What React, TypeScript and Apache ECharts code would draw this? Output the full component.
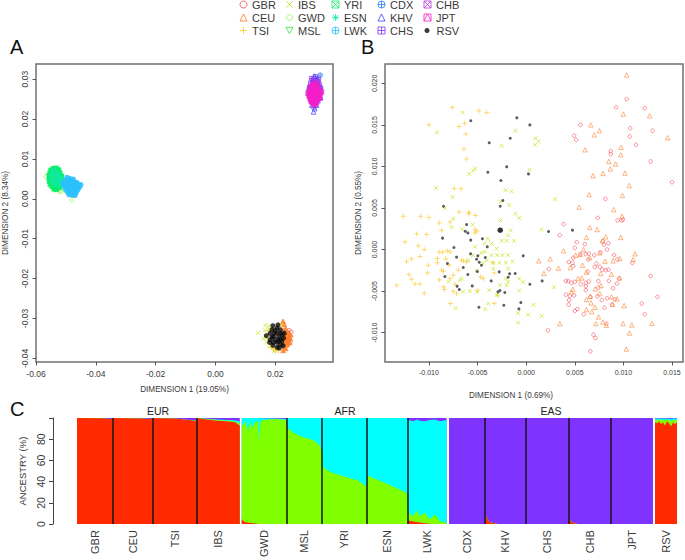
import React, { useEffect, useRef } from "react";
import * as echarts from "echarts";

type Pt = number[];

// ---- tick labels ----
const ticksAX = [-0.06, -0.04, -0.02, 0, 0.02];
const ticksAY = [-0.04, -0.03, -0.02, -0.01, 0, 0.01, 0.02, 0.03];
const ticksBX = [-0.01, -0.005, 0, 0.005, 0.01, 0.015];
const ticksBY = [-0.01, -0.005, 0, 0.005, 0.01, 0.015, 0.02];
const ticksCY = [0, 20, 40, 60, 80, 100];
const labelsCY = [0, 20, 40, 60, 80];

// ---- panel A points, in thousandths ----
const aYRI: Pt[] = [[-54.9,7.2],[-54.2,7.6],[-53.3,7.7],[-52.6,7.3],[-55.3,6.5],[-54.5,6.6],[-53.7,6.8],[-52.8,6.6],[-52,6.5],[-55.5,5.8],[-54.7,5.9],[-53.9,6],[-53.1,5.9],[-52.3,5.8],[-51.5,5.7],[-55.6,5.1],[-54.8,5.2],[-54,5.2],[-53.2,5.1],[-52.4,5],[-51.6,4.9],[-55.5,4.4],[-54.7,4.5],[-53.9,4.5],[-53,4.4],[-52.2,4.3],[-51.3,4.2],[-55.2,3.7],[-54.4,3.8],[-53.6,3.8],[-52.7,3.7],[-51.9,3.6],[-54.6,3.1],[-53.8,3.1],[-53,3],[-52.2,2.9],[-54,2.5],[-53.2,2.4]];
const aESN: Pt[] = [[-54.4,7],[-53.4,7.1],[-55,6],[-53.5,6.2],[-52.4,6.2],[-54.4,5.5],[-52.8,5.4],[-51.9,5.3],[-55,4.8],[-53.5,4.7],[-52,4.6],[-54.2,4],[-52.5,4.1],[-51,4.4],[-53.4,3.4],[-52,3.3]];
const aMSL: Pt[] = [[-55.1,7],[-53.9,7.4],[-52.3,7],[-55.7,5.5],[-51.4,5.4],[-55.1,3.9],[-51.7,3.5],[-53.5,2.7],[-52.6,2.5]];
const aGWD: Pt[] = [[-56.7,5.5],[-51.7,1.8],[-48,-0.3],[-52.6,2.2],[-55.4,3.3],[-53.8,2.2],[-55.8,6.2],[-51,3],[-50.5,2.2],[-52.2,1.9]];
const aLWK: Pt[] = [[-49.6,5.3],[-48.6,5],[-47.6,4.9],[-50.4,4.6],[-49.4,4.5],[-48.4,4.4],[-47.4,4.2],[-46.4,4.1],[-51,3.9],[-50,3.8],[-49,3.8],[-48,3.7],[-47,3.6],[-46,3.6],[-45.1,3.5],[-50.5,3.1],[-49.5,3.1],[-48.5,3],[-47.5,3],[-46.5,2.9],[-45.6,2.9],[-50,2.4],[-49,2.4],[-48,2.3],[-47,2.3],[-46.1,2.3],[-49.4,1.7],[-48.4,1.7],[-47.5,1.6],[-46.6,1.6],[-48.9,1.1],[-47.9,1],[-47,0.9]];
const aCDX: Pt[] = [[35,31],[33.5,29.5],[34.2,28.6],[32.2,27.5],[34.6,26],[33.3,30.2],[33,28.6],[34.8,27.5],[32,26.4],[33.2,25.2]];
const aKHV: Pt[] = [[32.8,21.8],[32.2,23.5],[33.2,22.6],[31.1,27.7],[33,30.8],[34.4,29.8],[32.5,29.4],[33.8,29],[32,28.6],[35,28.2],[31.6,25.6],[35.2,25.4],[33.8,23.5],[32.6,24.6],[34.3,24.6],[31.4,26.8]];
const aCHS: Pt[] = [[32.1,30.2],[33.5,30.6],[34.5,30],[32.8,29.2],[33.9,28.8],[31.8,29],[35.2,27.8],[31.4,27.9],[32.9,23],[33.5,24],[32,24.4]];
const aCHB: Pt[] = [[32.4,29.6],[33.2,29.2],[34.1,29.2],[34.8,28.6],[31.7,28.2],[32.6,28],[33.6,28.2],[30.9,26.4],[35.5,26.8],[32.3,25],[33.9,24.9]];
const aJPT: Pt[] = [[32.6,28.6],[33.6,28.7],[32,28],[33,28.1],[34,27.9],[31.6,27.2],[32.4,27.3],[33.2,27.2],[34.1,27.1],[34.8,27.2],[31.3,26.5],[32.1,26.6],[33,26.4],[33.8,26.5],[34.7,26.4],[35.2,26.6],[31.3,25.8],[32.2,25.9],[33.1,25.7],[34,25.8],[34.9,25.7],[31.7,25],[32.5,25.1],[33.3,24.9],[34.2,25],[34.8,25.2],[32.1,24.3],[33,24.4],[33.8,24.2],[32.7,23.8],[33.4,23.7]];
const aGBR: Pt[] = [[24.6,-33],[25.2,-34.5],[24.5,-35.5],[25,-36],[24,-34.5],[23.6,-33.4],[23.9,-36.7],[25.3,-33.4]];
const aCEU: Pt[] = [[22.6,-30.7],[22.6,-38],[23.5,-32.5],[24.5,-33.5],[25,-35],[24,-36.5],[23.5,-37.5],[25,-34],[24.8,-36],[23,-31.5],[23.4,-33.6],[24.2,-34.4],[23.2,-35],[24,-35.4],[22.6,-36.2],[23.4,-36],[22.8,-33],[23.3,-34.3],[24.6,-34.8],[22.8,-37]];
const aTSI: Pt[] = [[18,-33],[19,-32.5],[18.5,-36.5],[19.5,-37.5],[21,-38],[21.5,-32],[22,-31.5],[17.5,-35],[20.5,-37.8],[20,-38.1],[17.6,-33.9],[18.9,-37.2]];
const aIBS: Pt[] = [[14.3,-33.6],[16.5,-33],[17,-36],[18,-37.2],[19.5,-38.2],[17.5,-32.8],[16,-35],[16.9,-34.5],[17.9,-31.9],[16.7,-31.7]];
const aRSV: Pt[] = [[17,-34.3],[18.3,-33.7],[19.2,-31.8],[20.9,-31.6],[18.9,-32.8],[20,-33],[21.7,-32.8],[20.6,-33.7],[22.2,-34.1],[19.4,-34.5],[21.1,-34.7],[18.3,-35.3],[20,-35.3],[21.7,-35.2],[18.1,-36],[20.6,-36],[22.2,-35.7],[19.2,-36.7],[21.7,-36.6],[22.6,-36.8],[20.6,-37.2],[21.3,-37.4],[19.4,-36],[23,-33.7],[18.9,-34.7],[20.6,-32.4],[21.7,-33.7],[21.1,-35.7],[19.7,-33.7],[22.8,-34.9]];

// ---- panel B points, in thousandths ----
const bGBR: Pt[] = [[10.34,18.1],[9.25,17.1],[12.2,17],[5.58,15],[10.7,14.6],[13,14.3],[4.93,13.7],[5.14,13.2],[10.65,13.6],[11.3,12.6],[8.7,11.85],[8.7,11.5],[12.8,10.6],[15,8.1],[8.15,6.1],[7.36,3.8],[9.4,3.5],[9.8,3.5],[9.96,3.6],[3.84,3.05],[3.46,1.73],[5.2,0.88],[6.03,0.64],[5,0.2],[7.9,1],[8.46,0.76],[8,0.6],[8.32,0],[9.04,-0.68],[5.58,-0.56],[6.13,-0.56],[6.44,-0.48],[7,-0.68],[7.64,-0.36],[4.83,-1],[4.38,-1.49],[4.76,-1.6],[4.83,-2],[6.4,-1.2],[9.38,-1.2],[10.92,-1.6],[7.23,-1.69],[7.05,-2.1],[2.33,-2.37],[6.34,-2.65],[7.57,-2.09],[7.84,-2.41],[8.18,-2.49],[8.46,-2.41],[12.8,-3.2],[4.08,-3.78],[4.32,-3.82],[5,-3.9],[4.66,-4],[5.62,-4.18],[6.13,-4.02],[7.43,-3.82],[8.5,-3.78],[9.35,-4.1],[9.55,-3.5],[8.94,-4.66],[6.13,-4.42],[6.13,-4.9],[7.43,-4.58],[4.08,-5.43],[4.49,-5.59],[4.93,-5.5],[6.6,-5.7],[7.33,-5.63],[4.42,-6.1],[4.38,-6.63],[7.77,-6.1],[8.32,-5.87],[9.1,-6],[11.88,-6.5],[13.5,-5.7],[12.2,-7.8],[5.27,-7.15],[5,-7.4],[5.92,-7.8],[8.05,-7],[8.84,-6.63],[8.25,-8.92],[2.23,-9.73],[6.92,-10.25],[7.12,-10.65],[6.6,-12.26],[6.44,-3.86]];
const bCEU: Pt[] = [[10.34,21],[10,16.3],[12.7,16.1],[6.64,15],[7.53,14.3],[7,13.8],[14.55,13.45],[9.76,12.3],[6.06,12],[9.73,11.4],[8.5,10.6],[9.2,10.3],[8.66,9.7],[10.17,9.2],[7.9,9.15],[6.88,8.9],[10.6,7.7],[6.47,6.6],[9.9,6.5],[5.45,5.1],[9,4.8],[9.86,4],[6.54,2.65],[7.3,2.4],[6.2,1.45],[8.18,1.53],[9.73,1.45],[7.84,1.05],[3.84,-0.16],[5.9,0],[7.57,-0.4],[11.2,-0.52],[1.3,-1.37],[2.47,-1.13],[5.1,-0.68],[5.55,-0.6],[8.12,-1.4],[8.94,-1.37],[11,-1.2],[9.62,-1.09],[6.54,-0.96],[5.79,-1.89],[3.32,-2.25],[4.55,-2.17],[1.82,-2.89],[6.2,-2.73],[7.67,-2.89],[8.77,-2.97],[5.72,-3.42],[5.34,-3.5],[9.62,-3.42],[4.8,-4.78],[4.66,-5.1],[7.09,-4.74],[7.7,-4.34],[7.57,-5.3],[6.6,-5.63],[6.2,-6.03],[6.68,-6.43],[8.77,-5.7],[9.35,-5.95],[8.87,-6.6],[10.07,-6.75],[6.2,-7.23],[6.75,-7.48],[7.09,-6.95],[7.43,-8.12],[3.46,-8.92],[7.16,-8.92],[7.88,-8.72],[9.97,-8.92],[10.86,-9.08],[12.95,-8.88],[10.62,-10.05],[10.3,-11.98],[8.25,-9.12]];
const bTSI: Pt[] = [[-7.6,17.1],[-4.86,16.7],[-4.07,16.5],[-6.34,15.2],[-10,15],[-6.9,14.8],[-6.2,13.9],[-6.4,12.1],[-6.13,10.9],[-7.4,7.35],[-6.7,7.3],[-12.64,4],[-10.86,4],[-10,3.85],[-6.9,4.5],[-5.9,4.5],[-5.9,4.3],[-5.2,4.1],[-8.94,3.2],[-7.84,3.3],[-5.24,2.4],[-8.7,2.3],[-12.47,0.92],[-11.27,1.89],[-10.24,1.81],[-11.1,0.44],[-10.48,0],[-10.92,-0.84],[-11.78,-1.13],[-12.3,-1.45],[-10.07,-1.89],[-12.05,-3],[-11.78,-3.58],[-10.14,-2.81],[-13.32,-4.3],[-11.44,-4.14],[-10.92,-4.14],[-10.48,-5.27],[-8.94,-0.32],[-8.6,-0.32],[-8.12,-0.16],[-7.84,-0.28],[-9.14,-1.09],[-9.14,-1.6],[-8.7,-2.49],[-8.5,-2.61],[-8.94,-3.66],[-8.5,-4.5],[-8.4,-4.82],[-7.84,-3.5],[-7.5,-3.09],[-6.99,-2.49],[-6.64,-1.29],[-7.9,-1.89],[-7.5,-5.02],[-7.16,-5.3],[-7.8,-6.5],[-4.97,-4.9],[-5.07,2.2],[-5.27,2],[-4.68,-3.3],[-4.42,-3.5],[-3.29,-2.81],[-3.29,-6.5],[-2.95,-5.5],[-3.39,-1.6],[-7.33,-4.18],[-6.47,-1.37],[-6.13,-1.49],[-8.26,-1.13]];
const bIBS: Pt[] = [[-6.54,16.5],[-1.1,14.3],[-9.18,14.1],[0.96,13.4],[1.27,13],[0.9,12.6],[-2.53,12.5],[-5.24,9.75],[-5.45,9.5],[-5.86,9.1],[0.34,9.6],[-9.28,7.4],[-2.12,7.15],[-1.5,7],[-7.57,6.3],[2.98,6.05],[-2.64,5.75],[-1.75,5.35],[-8.36,4.95],[-1.1,4.3],[-0.72,3.8],[-2.64,3.5],[-7.5,3.7],[-5.5,3],[-7.67,2.7],[-6.57,2.45],[-1.6,2.3],[1.58,2.4],[-3.96,1.29],[-5.27,0.32],[-4.25,0.72],[-3.56,0.72],[-3.05,0.12],[-2.53,1.05],[-2.02,1.05],[-1.27,1.05],[-1.85,1.69],[-4.25,-0.28],[-4.6,-0.4],[-3.56,-0.68],[-2.98,-0.68],[-2.43,-0.68],[-1.85,-0.68],[-4.08,-1.29],[-3.46,-1.6],[-2.74,-1.6],[-2.09,-1.6],[-1.4,-1.45],[-4.42,-1.69],[-5.45,-0.68],[-5.96,-1.29],[-1.85,-2.29],[-3.39,-2.29],[-2.09,-3.5],[-0.72,-3.5],[-0.31,-3.9],[-1.85,-3.9],[-2.7,-4.3],[-2.02,-4.3],[-3.8,-4.9],[-0.72,-4.94],[-2.98,-5.5],[-3.9,-6.5],[-4.2,-7.2],[0.75,-6.67],[-0.82,-7.64],[0.2,-7.84],[1.6,-8],[-0.82,-8.8],[2.84,-4.54],[-6.47,-5.1],[-5.8,-5],[-5.07,-5.1],[-7.26,-7.07],[-8,-3.9],[-6.8,-3.7],[-6.64,-3.5],[-5.1,-2.5]];
const bRSV: Pt[] = [[-5.7,15.5],[-0.96,15.85],[0.38,15],[-1.64,13.4],[-3.8,12.85],[-2,9.95],[-3.94,9.3],[0.24,9.1],[-2.6,8.3],[-2.4,5.9],[-2.67,5.2],[-8.5,5.2],[-6.13,3],[-6.27,2.2],[-6,2],[-8.6,1.37],[-5.7,1.13],[-4.5,1.3],[-4,0.32],[-7.43,0.24],[-5.72,-0.52],[-4.97,-0.76],[-7.16,-0.92],[-5.1,-1.17],[-4.2,-0.96],[-4.83,-1.53],[-4.6,-1.89],[-8.1,-1.69],[-6.47,-2.17],[-5.03,-2.65],[-2.77,-2.69],[-6,-3],[-8.36,-3.26],[-1.7,-2.93],[-1.13,-2.89],[-1.85,-3.34],[-3.6,-3.78],[-5.55,-4.38],[-7.1,-4.42],[-6.88,-4.82],[-2.7,-4.94],[-2.9,-5.1],[-2.2,-5.18],[0.38,-4.18],[1.64,-3.78],[2.3,2.17],[4.76,2.33],[-0.3,-0.76],[-0.55,-6.39],[-2.3,-6.7],[-0.75,-7.15],[-4.86,-6.95]];
const bRSVFocus: Pt[] = [[-2.67, 2.33]];

// ---- panel C: ancestry shares at breakpoints along the samples ----
const populations = ["GBR","CEU","TSI","IBS","GWD","MSL","YRI","ESN","LWK","CDX","KHV","CHS","CHB","JPT","RSV"];
const popCentres = [45,140,244,353,468,568,668,776,876,975,1071,1176,1282,1387,1472];
const popSeparators = [90,190,299,525,612,725,827,1020,1123,1229,1335];

const eurX = [0,60,88,90,150,188,190,250,280,297,299,320,350,380,395,407];
const eurRed = [100,99.7,98.8,100,99.6,99,100,99.2,98,97,100,98.8,97.5,96.8,96,93];
const eurGreen = [0,0,0,0,0,0,0,0,0.2,0.3,0,0.4,0.6,0.6,0.8,2];
const eurCyan = [0,0,0,0,0,0,0,0,0,0.2,0,0.3,0.6,0.8,1,2];
const eurPurple = [0,0.3,1.2,0,0.4,1,0,0.8,1.8,2.5,0,0.5,1.3,1.8,2.2,3];

const afrX = [412,416,420,428,432,437,445,453,456,459,466,499,522,526,541,557,591,607,612,614,632,670,703,723,727,778,825,828,841,849,857,870,882,895,907,924];
const afrRed = [4.5,3,2,1.5,1,1,0.5,0.3,0,0,0,0,0,0,0,0,0,0,0,0,0,0,0,0,0,0,0,3.5,2.5,2,1.5,0.8,0.3,0,0,0];
const afrGreen = [91.5,89,95,86.5,97,89,95.5,96.7,78,97,98,99,98,90.5,86,83,79,74,67.6,54,49,44.6,41,35.5,45.5,37.6,29.4,8,5,11,6,10,4,9,3,1];
const afrCyan = [4,8,3,12,2,10,4,3,22,3,1.8,0.5,1,9.5,14,17,21,26,32.4,46,51,55.4,59,64.5,54.5,62.4,70.6,86.5,89.5,85.5,90,86.2,93.7,89.5,94,97];
const afrPurple = [0,0,0,0,0,0,0,0,0,0,0.2,0.5,1,0,0,0,0,0,0,0,0,0,0,0,0,0,0,2,3,1.5,2.5,3,2,1.5,3,2];

const easX = [930,1020,1022,1030,1053,1229,1231,1240,1253,1440];
const easRed = [0,0,8,2,0,0,4,1,0,0];
const easGreen = [0,0,0,0,0,0,0,0,0,0];
const easCyan = [0,0,0,0,0,0,0,0,0,0];
const easPurple = [100,100,92,98,100,100,96,99,100,100];

const rsvX = [1445,1450,1455,1460,1465,1470,1475,1480,1485,1490,1495,1500];
const rsvRed = [96,95,97,94,96,93,97,95,92,96,94,96];
const rsvGreen = [2,3,1.5,4,2,5,1.5,3,5,2,4,2];
const rsvCyan = [1.5,1.5,1,1.5,1.5,1.5,1,1.5,2,1.5,1.5,1.5];
const rsvPurple = [0.5,0.5,0.5,0.5,0.5,0.5,0.5,0.5,1,0.5,0.5,0.5];

// ---- styles ----
const FONT = "'Liberation Sans', Arial, sans-serif";
const TXT = "#3a3a3a";
const CLEAR = "rgba(255,255,255,0)";
const CIRCLE_PLUS = "path://M0 5A5 5 0 1 0 10 5A5 5 0 1 0 0 5ZM5 0V10M0 5H10";
const SQUARE_X = "path://M0 0H10V10H0ZM0 0L10 10M0 10L10 0";
const SQUARE_PLUS = "path://M0 0H10V10H0ZM5 0V10M0 5H10";
const symbols: Record<string, { symbol: string; color: string; scale: number }> = {
  GBR: { symbol: "circle", color: "#f2434f", scale: 0.9 },
  CEU: { symbol: "triangle", color: "#fb7a24", scale: 1 },
  TSI: { symbol: "path://M5 0V10M0 5H10", color: "#fdc21a", scale: 1.15 },
  IBS: { symbol: "path://M0 0L10 10M0 10L10 0", color: "#bee81e", scale: 0.9 },
  GWD: { symbol: "diamond", color: "#80f23f", scale: 1.1 },
  MSL: { symbol: "path://M0 0H10L5 9Z", color: "#2ee83a", scale: 1 },
  YRI: { symbol: SQUARE_X, color: "#08ee6c", scale: 0.9 },
  ESN: { symbol: "path://M5 0V10M0 5H10M1.5 1.5L8.5 8.5M1.5 8.5L8.5 1.5", color: "#10eaa8", scale: 1 },
  LWK: { symbol: CIRCLE_PLUS, color: "#2cc0fc", scale: 1 },
  CDX: { symbol: CIRCLE_PLUS, color: "#2a7df2", scale: 1 },
  KHV: { symbol: "triangle", color: "#3a3cf0", scale: 1 },
  CHS: { symbol: SQUARE_PLUS, color: "#7a35f0", scale: 0.9 },
  CHB: { symbol: SQUARE_X, color: "#b82ee0", scale: 0.9 },
  JPT: { symbol: "path://M0 0H10V10H0ZM0 10L5 0L10 10", color: "#f51ec8", scale: 0.9 },
};

const toAxis = (pts: Pt[]) => pts.map(([x, y]) => [x / 1000, y / 1000]);

function scatter(name: string, pts: Pt[], panel: number, base: number, lw: number, filled = false) {
  const s = symbols[name];
  return {
    type: "scatter", name, xAxisIndex: panel, yAxisIndex: panel, data: toAxis(pts),
    symbol: s.symbol, symbolSize: base * s.scale, silent: true,
    itemStyle: { color: filled ? s.color : CLEAR, borderColor: s.color, borderWidth: lw },
  };
}
function dots(pts: Pt[], panel: number, size: number, color: string) {
  return {
    type: "scatter", name: "RSV", xAxisIndex: panel, yAxisIndex: panel, data: toAxis(pts),
    symbol: "circle", symbolSize: size, silent: true, itemStyle: { color },
  };
}

const clusterColors = ["#ff2a00", "#80ff00", "#00ffff", "#7f33ff"];
// Each band is drawn as the running total of the shares below it, top band first.
function ancestry(group: string, x: number[], rows: number[][]) {
  const totals = rows.map((_, i) => x.map((_v, j) => rows.slice(0, i + 1).reduce((sum, r) => sum + r[j], 0)));
  return totals.map((total, i) => ({
    type: "line", name: group + i, xAxisIndex: 2, yAxisIndex: 2, silent: true,
    data: x.map((v, j) => [v, total[j]]), showSymbol: false, symbol: "none",
    lineStyle: { width: 0 }, itemStyle: { color: clusterColors[i] },
    areaStyle: { color: clusterColors[i], opacity: 1 },
  })).reverse();
}

function valueAxis(gridIndex: number, min: number, max: number, ticks: number[], dp: number, fs: number, name: string, gap: number, margin: number, isY: boolean, namePad = 0) {
  return {
    type: "value", gridIndex, min, max, name, nameLocation: "middle", nameGap: gap,
    nameTextStyle: { fontFamily: FONT, fontSize: 8.2, color: TXT, padding: [0, namePad, 0, 0] },
    splitLine: { show: false }, axisLine: { show: false, onZero: false },
    axisTick: { show: true, length: 3.5, customValues: ticks, lineStyle: { color: "#555", width: 1 } },
    axisLabel: {
      show: true, customValues: ticks, margin, rotate: isY ? 90 : 0, fontFamily: FONT, fontSize: fs, color: TXT,
      formatter: (v: number) => v.toFixed(dp),
    },
  };
}

function legendCol(left: number, top: number, names: string[], size = 7, extra = 0, hollow = true) {
  return {
    orient: "vertical", left, top, itemWidth: size, itemHeight: size, itemGap: 0, padding: 0,
    selectedMode: false,
    data: names.map((name) => (hollow ? { name, itemStyle: { color: CLEAR } } : { name })),
    itemStyle: { borderWidth: hollow ? 1 : 0 },
    textStyle: { fontFamily: FONT, fontSize: 11, color: TXT, lineHeight: 13, padding: [0, 0, 0, extra] },
  };
}

function letter(text: string, x: number, y: number) {
  return { type: "text", x, y, silent: true, style: { text, fontFamily: FONT, fontSize: 20, fill: "#111" } };
}
function groupLabel(text: string, x: number) {
  return { type: "text", x, y: 405, silent: true, style: { text, fontFamily: FONT, fontSize: 10.5, fill: "#222", textAlign: "center" } };
}

export default function App() {
  const ref = useRef<HTMLDivElement>(null);
  useEffect(() => {
    const chart = echarts.init(ref.current!, undefined, { renderer: "svg" });
    chart.setOption({
      animation: false,
      backgroundColor: "#fff",
      legend: [
        legendCol(239.5, -2, ["GBR", "CEU", "TSI"]),
        legendCol(285.5, -2, ["IBS", "GWD", "MSL"]),
        legendCol(331.5, -2, ["YRI", "ESN", "LWK"]),
        legendCol(377.5, -2, ["CDX", "KHV", "CHS"]),
        legendCol(423.5, -2, ["CHB", "JPT"]),
        legendCol(424.5, 24, ["RSV"], 5, 2, false),
      ],
      grid: [
        { left: 35, top: 64, width: 298, height: 298, show: true, borderColor: "#707070", borderWidth: 1.5, backgroundColor: "transparent" },
        { left: 385, top: 64, width: 298, height: 298, show: true, borderColor: "#707070", borderWidth: 1.5, backgroundColor: "transparent" },
        { left: 77, top: 418, width: 600, height: 109, show: false },
      ],
      xAxis: [
        valueAxis(0, -0.06, 0.0393, ticksAX, 2, 8.5, "DIMENSION 1 (19.05%)", 23, 7, false),
        valueAxis(1, -0.01452, 0.01613, ticksBX, 3, 7, "DIMENSION 1 (0.69%)", 29, 7, false, 46),
        {
          type: "value", gridIndex: 2, min: 0, max: 1500, splitLine: { show: false }, axisLine: { show: false }, axisTick: { show: false },
          axisLabel: {
            show: true, rotate: 90, margin: 6, customValues: popCentres, fontFamily: FONT, fontSize: 11, color: TXT,
            formatter: (v: number) => populations[popCentres.indexOf(v)],
          },
        },
      ],
      yAxis: [
        valueAxis(0, -0.0409, 0.0338, ticksAY, 2, 8.5, "DIMENSION 2 (8.34%)", 27, 7, true),
        valueAxis(1, -0.01354, 0.02233, ticksBY, 3, 7, "DIMENSION 2 (0.55%)", 23, 7, true),
        {
          type: "value", gridIndex: 2, min: 0, max: 100, offset: 24, name: "ANCESTRY (%)", nameLocation: "middle", nameGap: 26,
          nameTextStyle: { fontFamily: FONT, fontSize: 9.5, color: TXT },
          splitLine: { show: false },
          axisLine: { show: true, onZero: false, lineStyle: { color: "#444", width: 1 } },
          axisTick: { show: true, length: 4, customValues: ticksCY, lineStyle: { color: "#444", width: 1 } },
          axisLabel: { show: true, rotate: 90, margin: 7, customValues: labelsCY, fontFamily: FONT, fontSize: 10.5, color: TXT },
        },
      ],
      series: [
        scatter("GBR", aGBR, 0, 4.6, 0.8),
        scatter("CEU", aCEU, 0, 4.6, 0.9, true),
        scatter("TSI", aTSI, 0, 4.6, 0.8),
        scatter("IBS", aIBS, 0, 4.6, 0.9),
        scatter("GWD", aGWD, 0, 4.6, 0.8),
        scatter("MSL", aMSL, 0, 4.6, 0.9),
        scatter("YRI", aYRI, 0, 4.6, 1.1, true),
        scatter("ESN", aESN, 0, 4.6, 1.1, true),
        scatter("LWK", aLWK, 0, 4.6, 1.1, true),
        scatter("CDX", aCDX, 0, 4.6, 0.9),
        scatter("KHV", aKHV, 0, 4.6, 0.9),
        scatter("CHS", aCHS, 0, 4.6, 0.9),
        scatter("CHB", aCHB, 0, 4.6, 0.9),
        scatter("JPT", aJPT, 0, 4.6, 1.2, true),
        dots(aRSV, 0, 5, "#0a0a0a"),
        scatter("GBR", bGBR, 1, 4, 0.7),
        scatter("CEU", bCEU, 1, 4.4, 0.7),
        scatter("TSI", bTSI, 1, 4.4, 0.7),
        scatter("IBS", bIBS, 1, 4.2, 0.9),
        dots(bRSV, 1, 3, "#333"),
        dots(bRSVFocus, 1, 5.5, "#000"),
        ...ancestry("EUR", eurX, [eurRed, eurGreen, eurCyan, eurPurple]),
        ...ancestry("AFR", afrX, [afrRed, afrGreen, afrCyan, afrPurple]),
        ...ancestry("EAS", easX, [easRed, easGreen, easCyan, easPurple]),
        ...ancestry("ADM", rsvX, [rsvRed, rsvGreen, rsvCyan, rsvPurple]),
        {
          type: "scatter", name: "separators", xAxisIndex: 2, yAxisIndex: 2, data: [], silent: true,
          markLine: {
            silent: true, symbol: "none", label: { show: false }, animation: false,
            lineStyle: { color: "#151515", width: 1.5, type: "solid" },
            data: popSeparators.map((xAxis) => ({ xAxis })),
          },
        },
      ],
      graphic: [
        letter("A", 10, 37), letter("B", 361, 37), letter("C", 10, 399),
        groupLabel("EUR", 158), groupLabel("AFR", 345), groupLabel("EAS", 551),
      ],
    });
    return () => chart.dispose();
  }, []);
  return <div ref={ref} style={{ position: "fixed", left: 0, top: 0, width: 685, height: 560 }} />;
}
